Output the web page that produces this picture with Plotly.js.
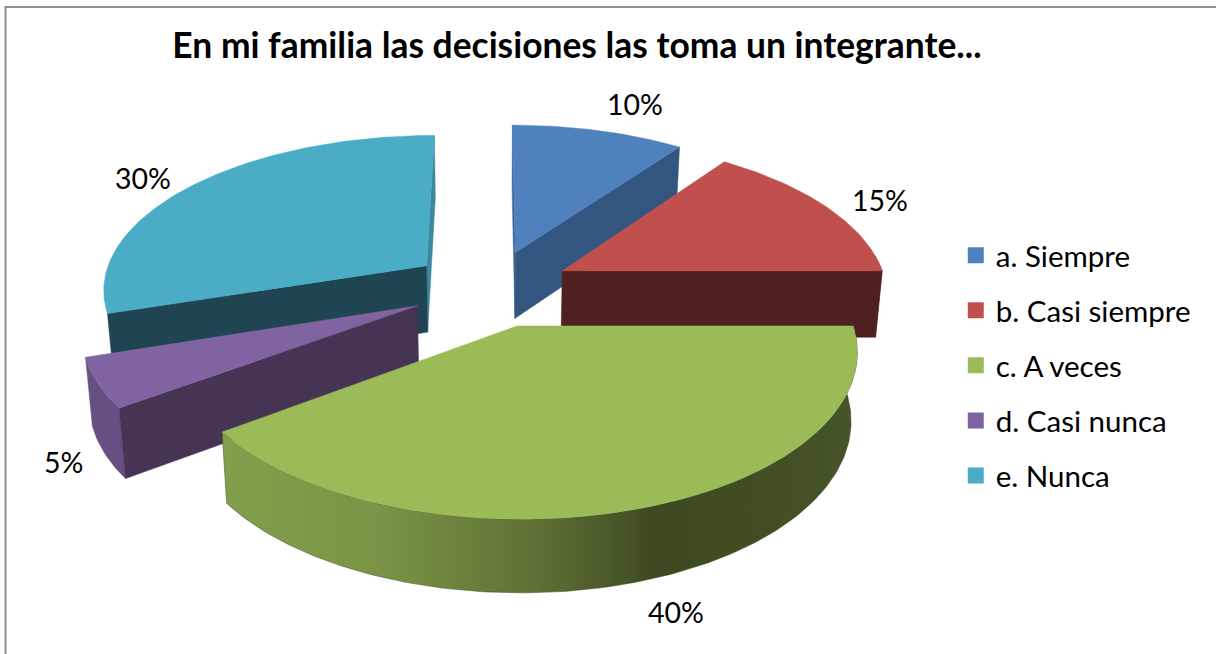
<!DOCTYPE html>
<html><head><meta charset="utf-8">
<script src="https://cdn.plot.ly/plotly-3.0.1.min.js"></script>
<style>html,body{margin:0;padding:0;background:#fff}#chart{width:1216px;height:654px}</style>
</head><body><div id="chart"></div>
<script>
const titleText = "En mi familia las decisiones las toma un integrante...";
const categories = ["a. Siempre","b. Casi siempre","c. A veces","d. Casi nunca","e. Nunca"];
const values = [10,15,40,5,30];
const topColors = ["#4f81bd","#c0504d","#9bbb59","#8064a2","#4bacc6"];
const wallColors = ["#335680","#4f201f","#3f4b23","#463454","#1f4552"];
const rimColors = ["#3f6797","#99403d","#7c9647","#664f82","#3c899e"];
const labelShifts = [[36,-27],[54,-7],[34,104],[-34,79],[-50,-7]];

// view: a perspective projection of a tilted, exploded pie
const V = {cx:491, cy:288, rx:325, ry:154.4, k:0.14, explode:0.25, depth:67, shrink:0.983};
const total = values.reduce((a,b)=>a+b,0);
function proj(u,v,low){
  const s = 1/(1+V.k*v);
  const f = low ? V.shrink : 1;
  return [V.cx+V.rx*u*s*f, V.cy-V.ry*v*s+(low?V.depth*Math.sqrt(s):0)];
}
function rad(d){return d*Math.PI/180;}
let acc=0;
const slices = values.map((val,i)=>{
  const a0=acc/total*360; acc+=val; const a1=acc/total*360;
  const m=rad((a0+a1)/2);
  return {i,a0,a1,ox:V.explode*Math.sin(m),oy:V.explode*Math.cos(m)};
});
function rimPt(sl,deg,low){const t=rad(deg);return proj(sl.ox+Math.sin(t),sl.oy+Math.cos(t),low);}
function arc(sl,from,to,low){const n=Math.max(2,Math.ceil(Math.abs(to-from)));const out=[];
  for(let j=0;j<=n;j++) out.push(rimPt(sl,from+(to-from)*j/n,low));return out;}
function poly(pts,color,extra){
  const c=pts.concat([pts[0]]);
  return Object.assign({type:"scatter",mode:"lines",x:c.map(p=>p[0]),y:c.map(p=>p[1]),
    fill:"toself",fillcolor:color,line:{width:0.5,color:color},showlegend:false,hoverinfo:"skip"},extra||{});
}
function apex(sl,low){return proj(sl.ox,sl.oy,low);}
function wall(sl,deg,color){return poly([apex(sl,false),rimPt(sl,deg,false),rimPt(sl,deg,true),apex(sl,true)],color);}
function rim(sl,from,to,color,extra){return poly(arc(sl,from,to,false).concat(arc(sl,to,from,true)),color,extra);}
function topFace(sl){
  return poly([apex(sl,false)].concat(arc(sl,sl.a0,sl.a1,false)),topColors[sl.i],
   {hoverinfo:"text",text:categories[sl.i]+": "+values[sl.i]+"%",hoveron:"fills"});
}
const [sA,sB,sC,sD,sE]=slices;
const traces=[];
// blue
traces.push(wall(sA,sA.a0,rimColors[0]),wall(sA,sA.a1,wallColors[0]),topFace(sA));
// red
traces.push(rim(sB,sB.a1-6,sB.a1,rimColors[1]),wall(sB,sB.a1,wallColors[1]),topFace(sB));
// teal
traces.push(wall(sE,sE.a1,rimColors[4]),wall(sE,sE.a0,wallColors[4]),topFace(sE));
// purple
traces.push(rim(sD,sD.a0,sD.a1,rimColors[3]),wall(sD,sD.a0,wallColors[3]),topFace(sD));
// green
traces.push(rim(sC,sC.a0,sC.a1,wallColors[2],{fillgradient:{type:"horizontal",colorscale:[
  [0,"#82a04b"],[0.25,"#7a9346"],[0.5,"#5e7034"],[0.68,"#3d4a21"],[0.85,"#414e24"],[1,"#46542a"]]}}),topFace(sC));
// legend entries
categories.forEach((c,i)=>traces.push({type:"scatter",mode:"markers",x:[null],y:[null],name:c,legendgroup:c,
  marker:{symbol:"square",size:16,color:topColors[i]},hoverinfo:"skip"}));

const annotations=slices.map((sl,i)=>{
  const p=rimPt(sl,(sl.a0+sl.a1)/2,false);
  return {x:p[0],y:p[1],xref:"x",yref:"y",xshift:labelShifts[i][0],yshift:-labelShifts[i][1],
    text:Math.round(values[i]/total*100)+"%",showarrow:false,font:{family:"Lato, sans-serif",size:28.5,color:"#000"}};
});
const layout={
  width:1216,height:654,margin:{l:0,r:0,t:0,b:0},paper_bgcolor:"#fff",plot_bgcolor:"rgba(0,0,0,0)",
  title:{text:"<b>"+titleText+"</b>",x:0.4745,xanchor:"center",y:0.931,yanchor:"middle",font:{family:"Lato, sans-serif",size:35.4,color:"#000"}},
  xaxis:{range:[0,1216],visible:false,fixedrange:true},
  yaxis:{range:[654,0],visible:false,fixedrange:true},
  legend:{x:0.786,y:0.649,xanchor:"left",yanchor:"top",font:{family:"Lato, sans-serif",size:29.5,color:"#000"},tracegroupgap:13.7,bgcolor:"rgba(0,0,0,0)"},
  annotations,
  shapes:[{type:"rect",xref:"x",yref:"y",x0:5.5,x1:1300,y0:7,y1:700,line:{color:"#909090",width:2},fillcolor:"rgba(0,0,0,0)",layer:"below"}]
};
Plotly.newPlot("chart",traces,layout,{displayModeBar:false});
</script></body></html>
